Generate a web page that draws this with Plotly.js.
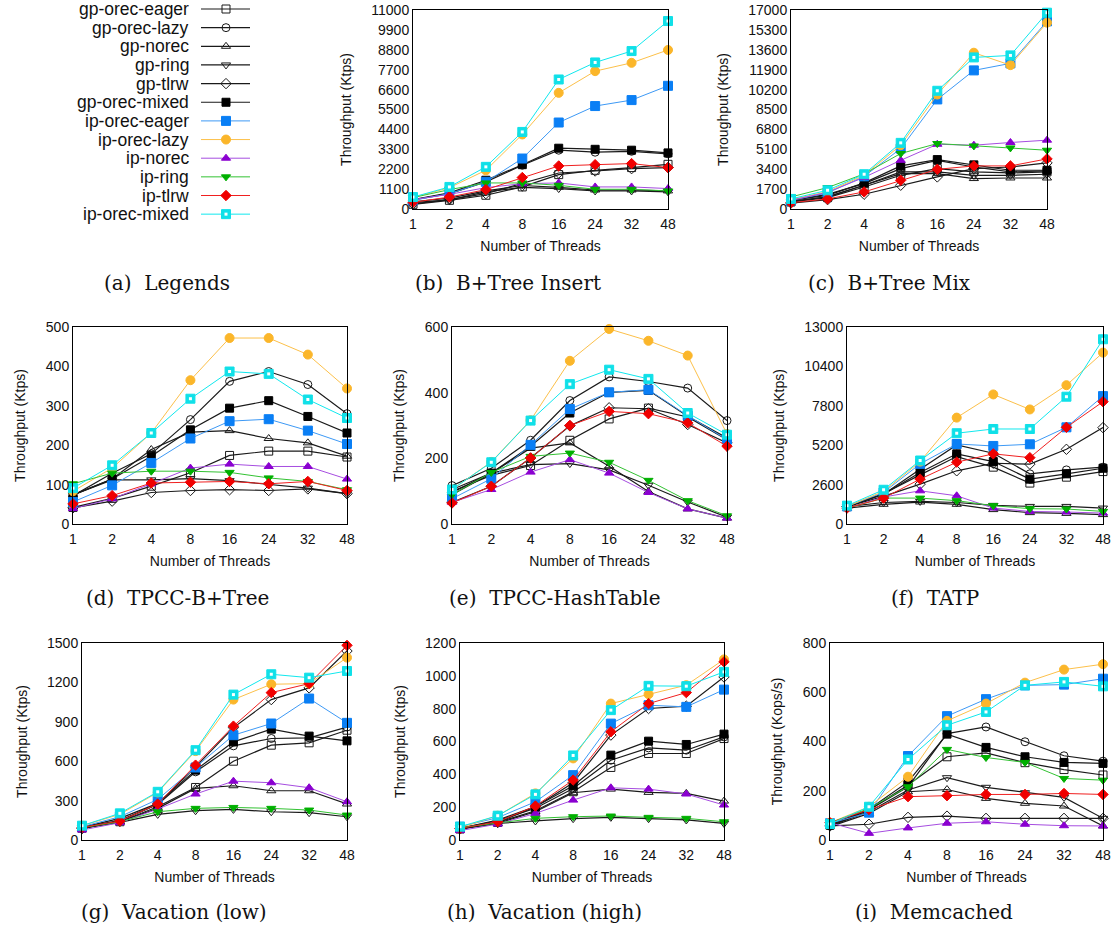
<!DOCTYPE html>
<html>
<head>
<meta charset="utf-8">
<script src="https://cdn.plot.ly/plotly-3.0.1.min.js"></script>
<style>html,body{margin:0;padding:0;background:#fff;}#chart{width:1117px;height:932px;}</style>
</head>
<body>
<div id="chart"></div>
<script>
// ---------- categories ----------
const threads = ['1', '2', '4', '8', '16', '24', '32', '48'];
const seriesNames = ['gp-orec-eager', 'gp-orec-lazy', 'gp-norec', 'gp-ring', 'gp-tlrw', 'gp-orec-mixed',
  'ip-orec-eager', 'ip-orec-lazy', 'ip-norec', 'ip-ring', 'ip-tlrw', 'ip-orec-mixed'];

// ---------- values (rows follow seriesNames order) ----------
const btreeInsert = [
  [260, 480, 760, 1220, 1900, 2140, 2290, 2470],
  [500, 850, 1500, 2420, 3250, 3140, 3190, 3050],
  [400, 600, 1000, 1300, 1200, 1050, 1050, 1000],
  [350, 500, 950, 1200, 1130, 1000, 1000, 950],
  [280, 520, 850, 1400, 1990, 2100, 2230, 2290],
  [520, 890, 1590, 2450, 3360, 3300, 3250, 3100],
  [480, 850, 1500, 2790, 4780, 5690, 6020, 6810],
  [630, 1180, 2140, 4120, 6420, 7620, 8080, 8790],
  [520, 810, 1180, 1400, 1440, 1220, 1220, 1130],
  [630, 1070, 1440, 1440, 1310, 1090, 1090, 1000],
  [370, 660, 1070, 1740, 2380, 2450, 2510, 2290],
  [660, 1220, 2330, 4260, 7160, 8100, 8730, 10390]
];
const btreeMix = [
  [600, 970, 1880, 2880, 3450, 3170, 3080, 3170],
  [750, 1250, 2170, 3450, 4160, 3590, 3170, 3250],
  [650, 1030, 2030, 3020, 3020, 2600, 2650, 2650],
  [640, 1030, 2030, 3170, 3170, 2880, 2880, 2970],
  [510, 800, 1260, 2030, 2740, 3450, 3590, 3940],
  [750, 1170, 2230, 3680, 4220, 3770, 3310, 3310],
  [740, 1370, 2790, 5160, 9360, 11840, 12440, 16030],
  [800, 1480, 2880, 5450, 9780, 13350, 12290, 15920],
  [740, 1430, 2700, 4160, 5530, 5450, 5680, 5880],
  [1030, 1830, 3000, 4740, 5590, 5390, 5220, 5020],
  [540, 860, 1460, 2450, 3390, 3680, 3680, 4280],
  [860, 1600, 2970, 5650, 10100, 12950, 13120, 16770]
];
const tpccBtree = [
  [42, 65, 96, 130, 174, 185, 185, 170],
  [72, 129, 178, 265, 362, 387, 354, 280],
  [74, 114, 189, 233, 237, 217, 206, 172],
  [74, 112, 112, 115, 110, 100, 91, 77],
  [41, 58, 80, 85, 87, 85, 89, 77],
  [74, 114, 172, 239, 294, 313, 273, 231],
  [56, 98, 155, 217, 261, 266, 237, 203],
  [83, 142, 231, 365, 472, 472, 430, 344],
  [39, 64, 102, 142, 152, 146, 146, 114],
  [102, 129, 134, 134, 131, 117, 108, 87],
  [51, 72, 104, 106, 108, 102, 108, 85],
  [91, 149, 231, 318, 387, 381, 316, 269]
];
const tpccHash = [
  [99, 148, 178, 255, 320, 353, 326, 257],
  [117, 170, 255, 376, 448, 434, 414, 315],
  [96, 155, 231, 247, 176, 99, 46, 18],
  [89, 155, 181, 184, 165, 118, 67, 21],
  [66, 115, 201, 299, 354, 351, 303, 247],
  [105, 155, 237, 338, 401, 407, 328, 262],
  [77, 138, 241, 350, 401, 409, 330, 257],
  [105, 189, 316, 497, 594, 558, 513, 274],
  [66, 105, 158, 196, 155, 96, 46, 18],
  [89, 157, 206, 216, 188, 133, 71, 25],
  [64, 115, 201, 300, 343, 336, 308, 237],
  [105, 188, 315, 426, 470, 442, 338, 272]
];
const tatp = [
  [1150, 2000, 3240, 4450, 3750, 2700, 3090, 3460],
  [1150, 1970, 3620, 5220, 4670, 3310, 3570, 3750],
  [1050, 1300, 1450, 1300, 950, 750, 700, 620],
  [1150, 1420, 1490, 1420, 1230, 1160, 1160, 1050],
  [1150, 1820, 2630, 3510, 4010, 3950, 4930, 6360],
  [1150, 1970, 3400, 4630, 4120, 2960, 3310, 3680],
  [1160, 2080, 3970, 5280, 5150, 5260, 6380, 8440],
  [1160, 2150, 4120, 7020, 8550, 7560, 9160, 11310],
  [1050, 1780, 2190, 1860, 1050, 830, 790, 720],
  [1050, 1710, 1710, 1540, 1210, 1010, 990, 830],
  [1050, 1710, 2960, 4080, 4630, 4380, 6380, 8070],
  [1210, 2260, 4190, 5990, 6270, 6270, 8400, 12190]
];
const vacationLow = [
  [90, 139, 253, 400, 600, 722, 740, 836],
  [96, 150, 270, 519, 717, 773, 778, 860],
  [90, 139, 241, 393, 413, 375, 375, 274],
  [90, 134, 195, 223, 233, 215, 208, 177],
  [86, 144, 274, 557, 856, 1069, 1158, 1439],
  [96, 165, 279, 532, 747, 844, 791, 755],
  [101, 177, 309, 552, 798, 887, 1077, 892],
  [109, 195, 362, 677, 1069, 1186, 1191, 1389],
  [76, 132, 236, 350, 448, 436, 398, 291],
  [94, 139, 215, 241, 248, 241, 228, 190],
  [96, 144, 274, 570, 867, 1122, 1191, 1482],
  [109, 203, 367, 684, 1107, 1262, 1236, 1287]
];
const vacationHigh = [
  [67, 107, 178, 294, 442, 527, 527, 618],
  [71, 117, 193, 314, 486, 561, 547, 628],
  [67, 101, 172, 288, 310, 290, 284, 237],
  [67, 101, 116, 130, 138, 130, 122, 101],
  [67, 107, 203, 349, 639, 801, 815, 993],
  [71, 122, 203, 330, 517, 602, 582, 645],
  [81, 136, 233, 395, 709, 821, 811, 916],
  [75, 148, 284, 497, 831, 888, 943, 1100],
  [57, 97, 162, 243, 318, 310, 280, 213],
  [75, 105, 132, 142, 146, 138, 132, 111],
  [71, 111, 207, 365, 659, 831, 898, 1085],
  [81, 148, 278, 515, 791, 939, 937, 1024]
];
const memcached = [
  [61, 122, 223, 338, 354, 314, 286, 264],
  [57, 122, 216, 432, 459, 399, 342, 320],
  [54, 108, 196, 205, 169, 149, 138, 57],
  [57, 115, 203, 253, 214, 192, 173, 88],
  [57, 64, 92, 97, 88, 88, 88, 88],
  [61, 125, 236, 430, 376, 338, 315, 311],
  [68, 111, 341, 503, 572, 628, 631, 655],
  [70, 135, 257, 484, 554, 639, 692, 714],
  [70, 27, 49, 68, 74, 64, 58, 57],
  [70, 128, 216, 368, 335, 315, 250, 243],
  [70, 124, 176, 180, 185, 185, 189, 185],
  [65, 135, 327, 466, 520, 628, 642, 624]
];

// ---------- y tick labels ----------
const ticksInsert = [0, 1100, 2200, 3300, 4400, 5500, 6600, 7700, 8800, 9900, 11000];
const ticksMix = [0, 1700, 3400, 5100, 6800, 8500, 10200, 11900, 13600, 15300, 17000];
const ticksTpccBtree = [0, 100, 200, 300, 400, 500];
const ticksTpccHash = [0, 200, 400, 600];
const ticksTatp = [0, 2600, 5200, 7800, 10400, 13000];
const ticksVacLow = [0, 300, 600, 900, 1200, 1500];
const ticksVacHigh = [0, 200, 400, 600, 800, 1000, 1200];
const ticksMem = [0, 200, 400, 600, 800];

const captions = ['(a)\u00a0 Legends', '(b)\u00a0 B+Tree Insert', '(c)\u00a0 B+Tree Mix', '(d)\u00a0 TPCC-B+Tree',
  '(e)\u00a0 TPCC-HashTable', '(f)\u00a0 TATP', '(g)\u00a0 Vacation (low)', '(h)\u00a0 Vacation (high)', '(i)\u00a0 Memcached'];

// ---------- styles ----------
const W = 1117, H = 932;
const GP = '#1a1a1a';
const styles = [
  {sym: 'square-open', mc: GP, lc: GP, size: 8, lw: 1.2},
  {sym: 'circle-open', mc: GP, lc: GP, size: 8, lw: 1.2},
  {sym: 'triangle-up-open', mc: GP, lc: GP, size: 8, lw: 1.2},
  {sym: 'triangle-down-open', mc: GP, lc: GP, size: 8, lw: 1.2},
  {sym: 'diamond-open', mc: GP, lc: GP, size: 8, lw: 1.2},
  {sym: 'square', mc: '#000000', lc: GP, size: 8, lw: 1.2},
  {sym: 'square', mc: '#0a7ff5', lc: '#3d99f5', size: 9, lw: 1},
  {sym: 'circle', mc: '#fbb62a', lc: '#fcc04a', size: 9, lw: 1},
  {sym: 'triangle-up', mc: '#8a00d0', lc: '#a64de0', size: 8, lw: 1},
  {sym: 'triangle-down', mc: '#00b000', lc: '#33c233', size: 8, lw: 1},
  {sym: 'diamond', mc: '#f00000', lc: '#f02020', size: 8, lw: 1},
  {sym: 'square', mc: '#10e0e8', lc: '#10e8ee', size: 9, lw: 1, inner: true}
];

// panel geometry in page pixels [x0, x1, y0, y1]
const panels = [
  {vals: btreeInsert, ticks: ticksInsert, ytitle: 'Throughput (Ktps)', px: [413, 668, 10, 209], cap: [508, 283]},
  {vals: btreeMix, ticks: ticksMix, ytitle: 'Throughput (Ktps)', px: [791, 1047, 10, 209], cap: [889, 283]},
  {vals: tpccBtree, ticks: ticksTpccBtree, ytitle: 'Throughput (Ktps)', px: [73, 347, 327, 524], cap: [177, 598]},
  {vals: tpccHash, ticks: ticksTpccHash, ytitle: 'Throughput (Ktps)', px: [452, 727, 327, 524], cap: [555, 598]},
  {vals: tatp, ticks: ticksTatp, ytitle: 'Throughput (Ktps)', px: [847, 1103, 327, 524], cap: [935, 598]},
  {vals: vacationLow, ticks: ticksVacLow, ytitle: 'Throughput (Ktps)', px: [82, 347, 643, 840], cap: [174, 912]},
  {vals: vacationHigh, ticks: ticksVacHigh, ytitle: 'Throughput (Ktps)', px: [460, 724, 643, 840], cap: [544, 912]},
  {vals: memcached, ticks: ticksMem, ytitle: 'Throughput (Kops/s)', px: [830, 1103, 643, 840], cap: [934, 912]}
];

const tickFont = {family: 'Liberation Sans, Arial, sans-serif', size: 14, color: '#111'};
const capFont = {family: 'DejaVu Serif, serif', size: 20, color: '#111'};
const traces = [];
const layout = {
  width: W, height: H,
  margin: {l: 0, r: 0, t: 0, b: 0},
  paper_bgcolor: '#fff', plot_bgcolor: '#fff',
  showlegend: false,
  font: tickFont,
  annotations: []
};

panels.forEach((p, i) => {
  const k = i + 1;
  const xs = k === 1 ? '' : String(k);
  seriesNames.forEach((name, s) => {
    const st = styles[s];
    traces.push({
      type: 'scatter', mode: 'lines+markers', name: name,
      x: threads, y: p.vals[s], xaxis: 'x' + xs, yaxis: 'y' + xs,
      line: {color: st.lc, width: st.lw},
      marker: {symbol: st.sym, size: st.size, color: st.mc, line: {color: st.mc, width: 1}},
      cliponaxis: false
    });
    if (st.inner) {
      traces.push({
        type: 'scatter', mode: 'markers', name: name, hoverinfo: 'skip',
        x: threads, y: p.vals[s], xaxis: 'x' + xs, yaxis: 'y' + xs,
        marker: {symbol: 'square', size: 3, color: '#ffffff'}, cliponaxis: false
      });
    }
  });
  const [x0, x1, y0, y1] = p.px;
  layout['xaxis' + xs] = {
    domain: [x0 / W, x1 / W], anchor: 'y' + xs,
    type: 'category', categoryorder: 'array', categoryarray: threads, range: [0, 7],
    showgrid: false, zeroline: false, showline: true, mirror: true, linecolor: '#000', linewidth: 1,
    ticks: '', tickfont: tickFont, ticklabelstandoff: 2,
    title: {text: 'Number of Threads', font: tickFont, standoff: 10}
  };
  layout['yaxis' + xs] = {
    domain: [1 - y1 / H, 1 - y0 / H], anchor: 'x' + xs,
    range: [0, p.ticks[p.ticks.length - 1]], tickvals: p.ticks, tickformat: 'd',
    showgrid: false, zeroline: false, showline: true, mirror: true, linecolor: '#000', linewidth: 1,
    ticks: '', tickfont: tickFont,
    title: {text: p.ytitle, font: tickFont, standoff: 16}
  };
  layout.annotations.push({
    text: captions[k], xref: 'paper', yref: 'paper', x: p.cap[0] / W, y: 1 - p.cap[1] / H,
    xanchor: 'center', yanchor: 'middle', showarrow: false, font: capFont
  });
});

// ---------- legend key (panel a) ----------
const LEG_AX = '9';
const legRowTop = 9, legRowStep = 18.65;
seriesNames.forEach((name, s) => {
  const st = styles[s];
  traces.push({
    type: 'scatter', mode: 'lines', x: [201, 250], y: [s, s], xaxis: 'x' + LEG_AX, yaxis: 'y' + LEG_AX,
    line: {color: st.lc, width: st.lw}, hoverinfo: 'skip', cliponaxis: false
  });
  traces.push({
    type: 'scatter', mode: 'markers', x: [226], y: [s], xaxis: 'x' + LEG_AX, yaxis: 'y' + LEG_AX,
    marker: {symbol: st.sym, size: st.size, color: st.mc, line: {color: st.mc, width: 1}},
    hoverinfo: 'skip', cliponaxis: false
  });
  if (st.inner) {
    traces.push({
      type: 'scatter', mode: 'markers', x: [226], y: [s], xaxis: 'x' + LEG_AX, yaxis: 'y' + LEG_AX,
      marker: {symbol: 'square', size: 3, color: '#ffffff'}, hoverinfo: 'skip', cliponaxis: false
    });
  }
  layout.annotations.push({
    text: name, xref: 'paper', yref: 'paper', x: 191 / W, y: 1 - (legRowTop + legRowStep * s) / H,
    xanchor: 'right', yanchor: 'middle', showarrow: false,
    font: {family: 'Liberation Sans, Arial, sans-serif', size: 17.5, color: '#111'}
  });
});
layout['xaxis' + LEG_AX] = {domain: [0, 260 / W], range: [0, 260], visible: false, anchor: 'y' + LEG_AX};
layout['yaxis' + LEG_AX] = {domain: [1 - 222 / H, 1], range: [(222 - legRowTop) / legRowStep, -legRowTop / legRowStep], visible: false, anchor: 'x' + LEG_AX};
layout.annotations.push({
  text: captions[0], xref: 'paper', yref: 'paper', x: 167 / W, y: 1 - 283 / H,
  xanchor: 'center', yanchor: 'middle', showarrow: false, font: capFont
});

Plotly.newPlot('chart', traces, layout, {displayModeBar: false, staticPlot: true});
</script>
</body>
</html>
